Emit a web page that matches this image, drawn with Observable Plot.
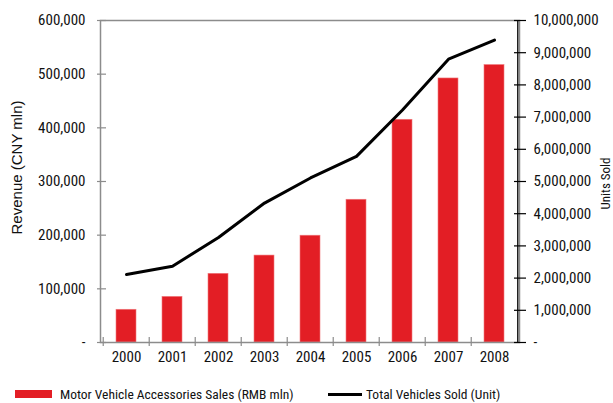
<!DOCTYPE html>
<html>
<head>
<meta charset="utf-8">
<script src="https://cdn.jsdelivr.net/npm/d3@7"></script>
<script src="https://cdn.jsdelivr.net/npm/@observablehq/plot@0.6"></script>
<style>
  body { margin: 0; background: #fff; }
  #wrap { width: 613px; }
  .legend { position: relative; height: 23px; font-family: 'Roboto Condensed', 'DejaVu Sans Condensed', sans-serif; font-size: 13.5px; color: #111; }
  .legend span { position: absolute; white-space: nowrap; line-height: 16px; }
</style>
</head>
<body>
<div id="wrap"></div>
<script>
// ---- data ----
const years = ["2000","2001","2002","2003","2004","2005","2006","2007","2008"];
const accessorySales = [61000, 85000, 128000, 162000, 199000, 266000, 415000, 492000, 517000]; // RMB mln
const vehiclesSold = [2110000, 2370000, 3260000, 4330000, 5110000, 5780000, 7220000, 8800000, 9390000]; // units
const revenueTicks = [0, 100000, 200000, 300000, 400000, 500000, 600000];
const unitTicks = [0, 1000000, 2000000, 3000000, 4000000, 5000000, 6000000, 7000000, 8000000, 9000000, 10000000];
const seriesNames = ["Motor Vehicle Accessories Sales (RMB mln)", "Total Vehicles Sold (Unit)"];

const revMax = 600000, unitMax = 10000000;
const k = revMax / unitMax; // maps units onto the revenue scale

const data = years.map((y, i) => ({year: y, sales: accessorySales[i], units: vehiclesSold[i]}));

const W = 613, H = 380, mL = 100, mR = 94, mT = 20, mB = 38;
const step = (W - mL - mR) / years.length;
const gray = "#8c8c8c";
const red = "#e31e25";
const font = "'Roboto Condensed', 'DejaVu Sans Condensed', sans-serif";
const fmt = d3.format(",");
const dash = d => d === 0 ? "-" : fmt(d);

const chart = Plot.plot({
  width: W, height: H,
  marginLeft: mL, marginRight: mR, marginTop: mT, marginBottom: mB,
  style: {fontFamily: font, fontSize: "15px", color: "#111", background: "#fff"},
  x: {type: "band", domain: years, paddingInner: 0.57, paddingOuter: 0.285, axis: null},
  y: {domain: [0, revMax], axis: null},
  marks: [
    Plot.barY(data, {x: "year", y: "sales", fill: red, stroke: "#f07a7e", strokeWidth: 0.6}),
    Plot.frame({stroke: gray, strokeWidth: 1.5}),
    Plot.ruleX(years, {x: d => d, dx: -step / 2, y1: 0, y2: 0, insetTop: -5, insetBottom: -4, stroke: gray, strokeWidth: 1.2}),
    Plot.ruleX([years[years.length - 1]], {x: d => d, dx: step / 2, stroke: "#000", strokeWidth: 1.3}),
    Plot.line(data, {x: "year", y: d => d.units * k, stroke: "#000", strokeWidth: 3}),
    Plot.axisY({anchor: "left", ticks: revenueTicks, tickFormat: dash, tickSize: 9, dx: 6, tickPadding: 12,
      stroke: gray, strokeWidth: 1.2, fontSize: 15, label: null}),
    Plot.axisY({anchor: "right", ticks: unitTicks.map(u => u * k), tickFormat: d => dash(Math.round(d / k)),
      tickSize: 12, dx: -6, tickPadding: 8, stroke: "#000", strokeWidth: 1.2, fontSize: 15, label: null}),
    Plot.axisX({anchor: "bottom", tickSize: 0, tickPadding: 9, fontSize: 15, label: null}),
    Plot.text(["Revenue (CNY mln)"], {frameAnchor: "left", textAnchor: "middle", rotate: -90, dx: -83, dy: -14,
      fontFamily: "'Liberation Sans', Arial, sans-serif", fontSize: 15, fill: "#111"}),
    Plot.text(["Units Sold"], {frameAnchor: "right", textAnchor: "middle", rotate: -90, dx: 86, dy: 2, fontSize: 13, fill: "#111"})
  ]
});

const wrap = document.getElementById("wrap");
wrap.appendChild(chart);

const legend = document.createElement("div");
legend.className = "legend";
legend.innerHTML = `
  <span style="left:15px;top:10px;width:37px;height:8px;background:${red}"></span>
  <span style="left:60px;top:6px">${seriesNames[0]}</span>
  <span style="left:328px;top:13px;width:34px;height:3px;background:#000"></span>
  <span style="left:366px;top:6px">${seriesNames[1]}</span>`;
wrap.appendChild(legend);
</script>
</body>
</html>
